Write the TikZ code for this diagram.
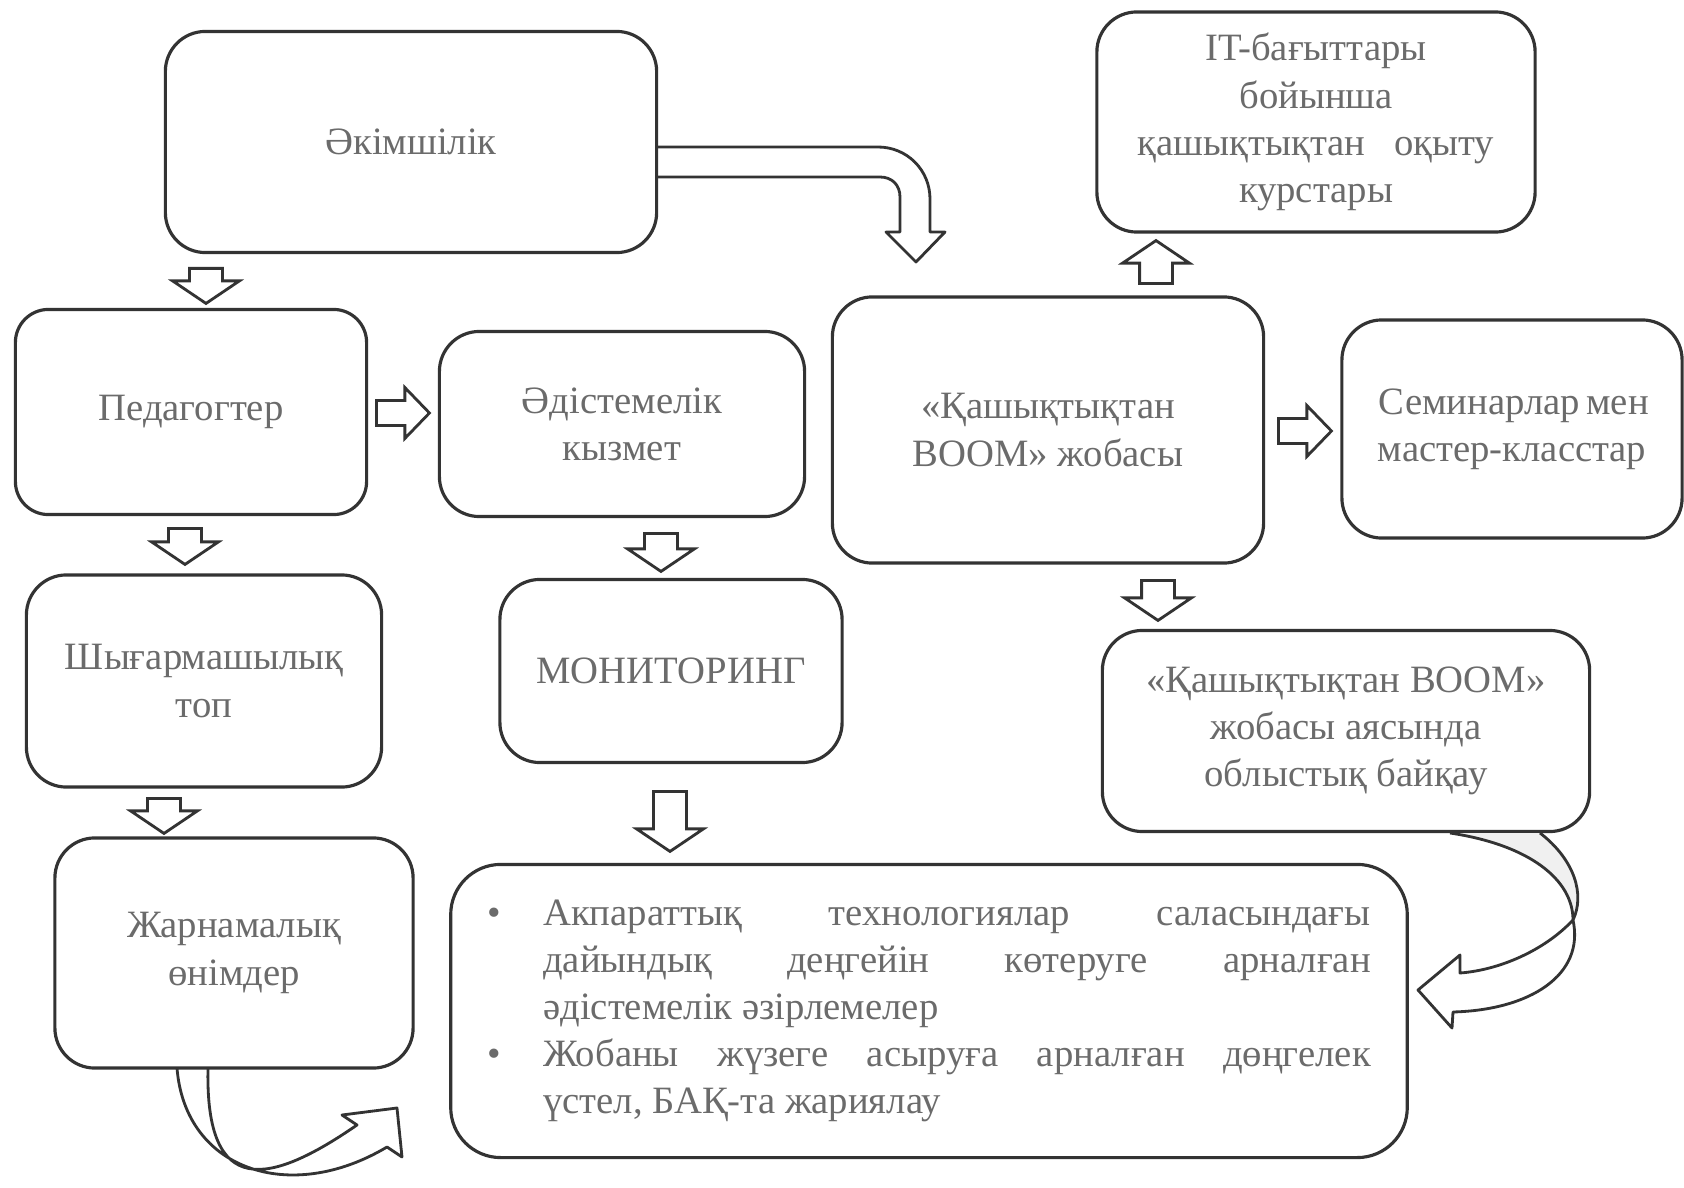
\documentclass[tikz,border=0pt]{standalone}
\usepackage{fontspec}
\setmainfont{Liberation Serif}
\usetikzlibrary{shapes.arrows}

\begin{document}
\begin{tikzpicture}
[x=0.01cm,y=-0.01cm,
  boxdecorate/.style={shape=rectangle,rounded corners=0.4cm,draw=black!80,line width=0.9pt,%
    align=center,text=black!58,font=\fontsize{11}{13.4}\selectfont,inner sep=0pt},
  vdecorate/.style={single arrow,draw=black!80,line width=0.8pt,anchor=tail,%
    inner xsep=0pt,inner ysep=0.15cm,single arrow head extend=0.17cm,single arrow tip angle=112},
  hdecorate/.style={single arrow,draw=black!80,line width=0.8pt,anchor=tail,%
    inner xsep=0pt,inner ysep=0.11cm,single arrow head extend=0.13cm,single arrow tip angle=92},
  linedecorate/.style={draw=black!80,line width=0.8pt,line join=round}]
\fill[white] (0,0) rectangle (1684,1188);
\useasboundingbox (0,0) rectangle (1684,1188);
%% boxes
\node (adm) at (411,142) [boxdecorate,minimum width=4.91cm,minimum height=2.21cm] {Әкімшілік};
\node (ped) at (191,412) [boxdecorate,minimum width=3.51cm,minimum height=2.05cm,rounded corners=0.33cm] {Педагогтер};
\node (adis) at (622,424) [boxdecorate,minimum width=3.65cm,minimum height=1.85cm] {Әдістемелік\\кызмет};
\node (boom) at (1048,430) [boxdecorate,minimum width=4.31cm,minimum height=2.66cm] {«Қашықтықтан\\BOOM» жобасы};
\node (itk) at (1316,122) [boxdecorate,minimum width=4.38cm,minimum height=2.20cm] {IT-бағыттары\\бойынша\\қашықтықтан\hspace{0.5em} оқыту\\курстары};
\node (sem) at (1512,429) [boxdecorate,minimum width=3.40cm,minimum height=2.18cm] {\makebox[2.66cm][s]{Семинарлар мен}\\мастер-класстар};
\node (shyg) at (204,681) [boxdecorate,minimum width=3.55cm,minimum height=2.12cm] {Шығармашылық\\топ};
\node (mon) at (671,671) [boxdecorate,minimum width=3.42cm,minimum height=1.83cm] {МОНИТОРИНГ};
\node (bayq) at (1346,731) [boxdecorate,minimum width=4.87cm,minimum height=2.01cm] {«Қашықтықтан BOOM»\\жобасы аясында\\облыстық байқау};
\node (zhar) at (234,953) [boxdecorate,minimum width=3.58cm,minimum height=2.30cm] {Жарнамалық\\өнімдер};
\node (nat) at (929,1011) [boxdecorate,minimum width=9.56cm,minimum height=2.93cm,rounded corners=0.5cm,align=left] {%
\makebox[0.56cm][l]{•}\makebox[8.27cm][s]{Акпараттық технологиялар саласындағы}\\
\hspace*{0.56cm}\makebox[8.27cm][s]{дайындық деңгейін көтеруге арналған}\\
\hspace*{0.56cm}әдістемелік әзірлемелер\\
\makebox[0.56cm][l]{•}\makebox[8.27cm][s]{Жобаны жүзеге асыруға арналған дөңгелек}\\
\hspace*{0.56cm}үстел, БАҚ-та жариялау};
%% block arrows
\foreach \arrname/\x/\y/\ang/\len in {a1/206/267/-90/0.35cm, a2/185/527/-90/0.36cm,
    a3/164/797/-90/0.35cm, a5/661/532/-90/0.38cm, a6/670/790/-90/0.60cm,
    a7/1156/285/90/0.43cm, a9/1158/579/-90/0.40cm} {
  \node (\arrname) at (\x,\y) [vdecorate,rotate=\ang,minimum height=\len] {};
}
\foreach \arrname/\x/\y in {a4/375/413, a8/1277/431} {
  \node (\arrname) at (\x,\y) [hdecorate,minimum height=0.53cm] {};
}
%% bent arrow
\draw[linedecorate] (adm.east |- 0,147) -- (878,147) .. controls (907,147) and (930,170) .. (930,199)
  -- (930,232) -- (945,232) -- (916,262) -- (886,232) -- (900,232) -- (900,197)
  .. controls (900,185) and (892,177) .. (880,177) -- (adm.east |- 0,177);
%% curved arrows
\draw[linedecorate] (177,1068) .. controls (185,1170) and (290,1205) .. (387,1147)
  -- (402,1157) -- (397,1108) -- (342,1115) -- (357,1125)
  .. controls (270,1185) and (205,1200) .. (208,1068);
\fill[black!6] (1450,833) .. controls (1530,845) and (1573,880) .. (1573,920)
  .. controls (1585,895) and (1575,860) .. (1540,833) -- cycle;
\draw[linedecorate] (1450,833) .. controls (1530,845) and (1573,880) .. (1573,920);
\draw[linedecorate] (1540,833) .. controls (1575,860) and (1585,895) .. (1573,920)
  .. controls (1585,975) and (1530,1010) .. (1453,1012) -- (1452,1028) -- (1418,990)
  -- (1460,955) -- (1460,973) .. controls (1500,970) and (1545,950) .. (1573,920);
\end{tikzpicture}
\end{document}
